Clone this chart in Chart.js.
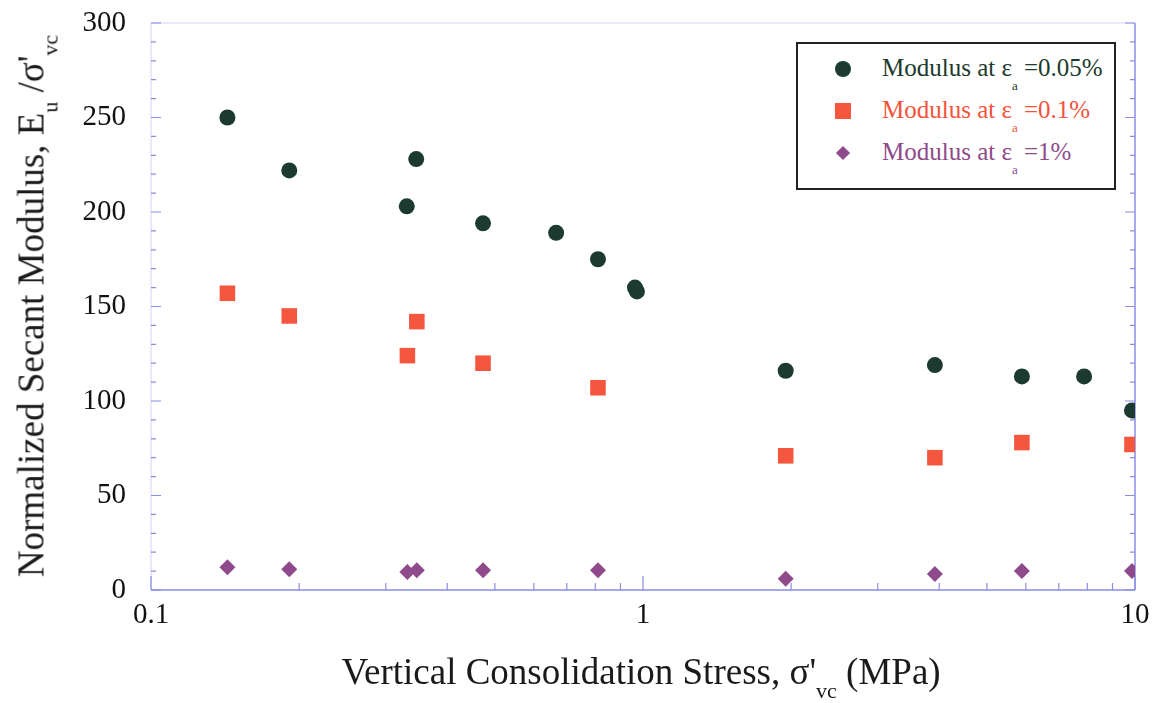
<!DOCTYPE html>
<html>
<head>
<meta charset="utf-8">
<script src="https://cdn.jsdelivr.net/npm/chart.js@4.4.1/dist/chart.umd.min.js"></script>
<style>
  html, body { margin: 0; padding: 0; background: #ffffff; }
  #wrap { position: relative; width: 1157px; height: 703px; overflow: hidden; font-family: "Liberation Serif", "DejaVu Serif", serif; }
  #c { position: absolute; left: 0; top: 0; }
  .ytitle { position: absolute; left: 31px; top: 306px; transform: translate(-50%, -50%) rotate(-90deg); white-space: nowrap; font-size: 37px; color: #1a1a1a; }
  .xtitle { position: absolute; left: 641px; top: 671px; transform: translate(-50%, -50%); white-space: nowrap; font-size: 37px; color: #1a1a1a; }
  .sub { font-size: 22px; position: relative; top: 14px; vertical-align: baseline; }
  #legend { position: absolute; left: 796px; top: 42px; width: 316px; height: 144px; border: 2px solid #222; background: #fff; }
  .row { position: absolute; left: 0; white-space: nowrap; font-size: 25px; }
  .row .txt { position: absolute; left: 84px; top: -15px; }
  .row .lsub { font-size: 13px; position: relative; top: 14px; }
  .mk { position: absolute; }
</style>
</head>
<body>
<div id="wrap">
  <canvas id="c" width="1157" height="703"></canvas>
  <div class="ytitle">Normalized Secant Modulus, E<span class="sub">u</span> /σ'<span class="sub">vc</span></div>
  <div class="xtitle">Vertical Consolidation Stress, σ'<span class="sub">vc</span> (MPa)</div>
  <div id="legend">
    <div class="row" style="top:25px; color:#1d3a2c;">
      <div class="mk" style="left:37px; top:-8px; width:16px; height:16px; border-radius:50%; background:#1c3a2f;"></div>
      <span class="txt">Modulus at ε<span class="lsub">a</span> =0.05%</span>
    </div>
    <div class="row" style="top:67px; color:#f4533b;">
      <div class="mk" style="left:37px; top:-8px; width:16px; height:16px; background:#f4563e;"></div>
      <span class="txt">Modulus at ε<span class="lsub">a</span> =0.1%</span>
    </div>
    <div class="row" style="top:109px; color:#8e4a8a;">
      <div class="mk" style="left:40px; top:-5px; width:10px; height:10px; background:#8e4a8a; transform: rotate(45deg);"></div>
      <span class="txt">Modulus at ε<span class="lsub">a</span> =1%</span>
    </div>
  </div>
</div>
<script>
// ---- data ----
const xCircle = [0.143, 0.191, 0.331, 0.346, 0.473, 0.666, 0.81, 0.963, 0.972, 1.95, 3.92, 5.89, 7.88, 9.86];
const yCircle = [250, 222, 203, 228, 194, 189, 175, 160, 158, 116, 119, 113, 113, 95];
const xSquare = [0.143, 0.191, 0.332, 0.347, 0.473, 0.81, 1.95, 3.92, 5.89, 9.86];
const ySquare = [157, 145, 124, 142, 120, 107, 71, 70, 78, 77];
const xDiamond = [0.143, 0.191, 0.332, 0.347, 0.473, 0.81, 1.95, 3.92, 5.89, 9.86];
const yDiamond = [12, 11, 9.5, 10.5, 10.5, 10.5, 6, 8.5, 10, 10];
const xTickLabels = [0.1, 1, 10];
const yTickLabels = [0, 50, 100, 150, 200, 250, 300];

const toPts = (xs, ys) => xs.map((x, i) => ({ x: x, y: ys[i] }));

const AXIS = '#8a8de4';
const axisPlugin = {
  id: 'innerAxes',
  beforeDatasetsDraw(chart) {
    const { ctx, chartArea: a, scales } = chart;
    const xs = scales.x, ys = scales.y;
    ctx.save();
    ctx.lineWidth = 1.5;
    ctx.strokeStyle = AXIS;
    ctx.beginPath();
    ctx.moveTo(a.left, a.bottom); ctx.lineTo(a.right, a.bottom);
    ctx.moveTo(a.right, a.bottom); ctx.lineTo(a.right, a.top);
    ctx.stroke();
    ctx.strokeStyle = 'rgba(138,141,228,0.25)';
    ctx.beginPath();
    ctx.moveTo(a.left, a.bottom); ctx.lineTo(a.left, a.top);
    ctx.moveTo(a.left, a.top); ctx.lineTo(a.right, a.top);
    ctx.stroke();
    ctx.strokeStyle = AXIS;
    ctx.lineWidth = 1.2;
    ctx.beginPath();
    for (let v = 0; v <= 300; v += 10) {
      const py = ys.getPixelForValue(v);
      const len = (v % 50 === 0) ? 10 : 5;
      ctx.moveTo(a.left, py); ctx.lineTo(a.left + len, py);
      ctx.moveTo(a.right, py); ctx.lineTo(a.right - len, py);
    }
    for (let d = 0.1; d < 10.5; d *= 10) {
      for (let m = 1; m <= 9; m++) {
        const v = d * m;
        if (v > 10.0001) break;
        const px = xs.getPixelForValue(v);
        const len = (m === 1) ? 14 : 7;
        ctx.moveTo(px, a.bottom); ctx.lineTo(px, a.bottom - len);
      }
    }
    ctx.stroke();
    ctx.restore();
  }
};

new Chart(document.getElementById('c'), {
  type: 'scatter',
  data: {
    datasets: [
      { label: 'Modulus at εa =0.05%', data: toPts(xCircle, yCircle), pointStyle: 'circle', pointRadius: 8, backgroundColor: '#1c3a2f', borderColor: '#1c3a2f', borderWidth: 0 },
      { label: 'Modulus at εa =0.1%', data: toPts(xSquare, ySquare), pointStyle: 'rect', pointRadius: 11, backgroundColor: '#f4563e', borderColor: '#f4563e', borderWidth: 0 },
      { label: 'Modulus at εa =1%', data: toPts(xDiamond, yDiamond), pointStyle: 'rectRot', pointRadius: 8, backgroundColor: '#8e4a8a', borderColor: '#8e4a8a', borderWidth: 0 }
    ]
  },
  options: {
    responsive: false,
    animation: false,
    devicePixelRatio: 1,
    layout: { padding: { left: 0, top: 23, right: 22, bottom: 0 } },
    plugins: { legend: { display: false }, tooltip: { enabled: false } },
    scales: {
      x: {
        type: 'logarithmic', min: 0.1, max: 10,
        grid: { display: false, drawTicks: false },
        border: { display: false },
        afterBuildTicks: (s) => { s.ticks = xTickLabels.map(v => ({ value: v })); },
        afterFit: (s) => { s.height = 113; s.paddingLeft = 0; s.paddingRight = 0; s.paddingTop = 0; s.paddingBottom = 0; },
        ticks: { padding: 8, color: '#111', font: { family: 'Liberation Serif', size: 29 }, callback: (v) => String(v), maxRotation: 0, autoSkip: false }
      },
      y: {
        min: 0, max: 300,
        grid: { display: false, drawTicks: false },
        border: { display: false },
        afterBuildTicks: (s) => { s.ticks = yTickLabels.map(v => ({ value: v })); },
        afterFit: (s) => { s.width = 151; s.paddingTop = 0; s.paddingBottom = 0; s.paddingLeft = 0; s.paddingRight = 0; },
        ticks: { padding: 25, color: '#111', font: { family: 'Liberation Serif', size: 29 } }
      }
    }
  },
  plugins: [axisPlugin]
});
</script>
</body>
</html>
